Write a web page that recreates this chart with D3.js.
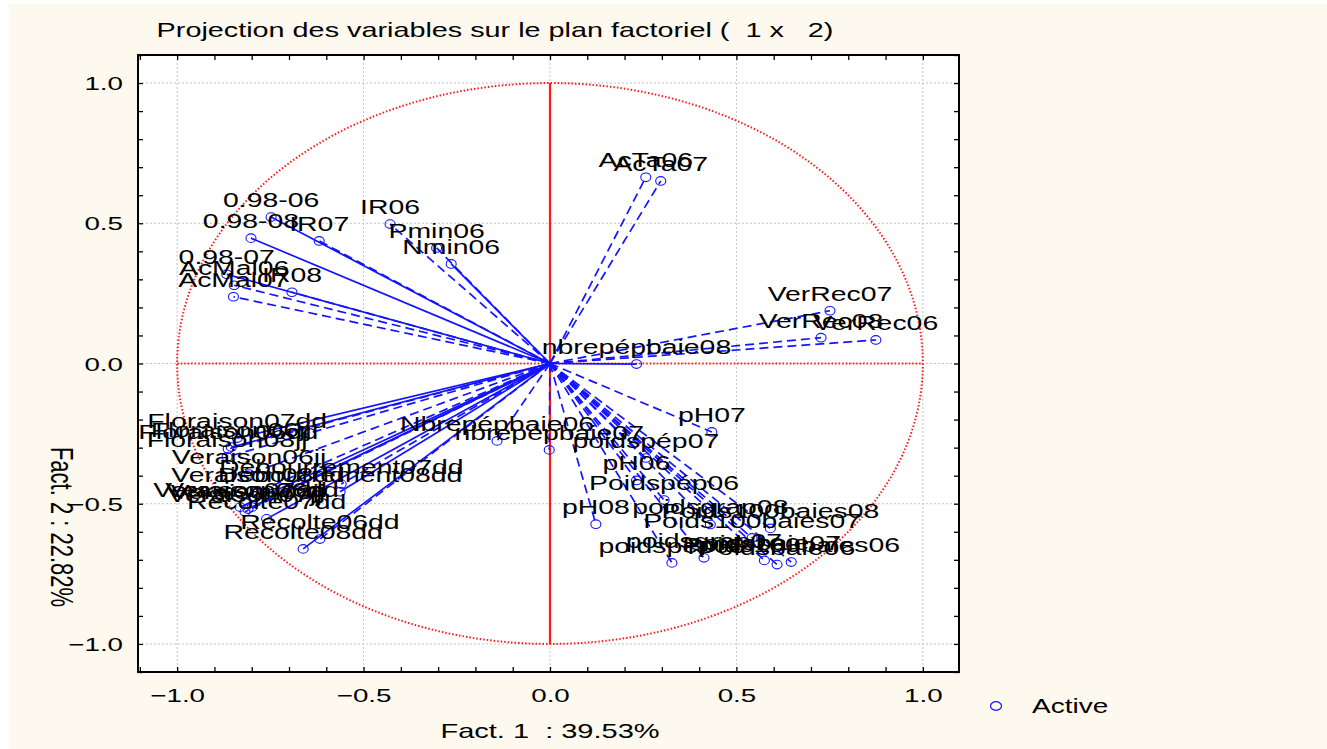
<!DOCTYPE html>
<html><head><meta charset="utf-8">
<script src="https://cdn.jsdelivr.net/npm/d3@7/dist/d3.min.js"></script>
<style>body{margin:0;background:#fff;}svg{display:block;font-family:"Liberation Sans",Arial,sans-serif;}svg text{white-space:pre;}</style>
</head><body>
<script>
// ---- data ----
const names = ["0.98-06","0.98-08","IR07","IR06","Pmin06","Nmin06","0.98-07","AcMal06","IR08","AcMal07",
 "AcTa06","AcTa07","VerRec07","VerRec08","VerRec06","nbrepépbaie08",
 "pH07","poidspép07","pH06","Poidspép06","pH08","poidsgrap08","Poids100baies08","Poids100baies07",
 "poidspép08","poidsgrap07","poidsbaie07","Poidsbaie06","Poids100baies06",
 "Nbrepépbaie06","nbrepépbaie07",
 "Floraison07dd","Floraison06dd","Floraison06jj","Floraison08jj","Veraison06jj","Veraison08dd",
 "Débourrement07dd","Débourrement08dd","Veraison07dd","Veraison07jj","Veraison08jj","Veraison06dd",
 "Recolte07dd","Recolte06dd","Recolte08dd"];
const fact1 = [-0.748,-0.802,-0.619,-0.429,-0.304,-0.265,-0.867,-0.847,-0.692,-0.849,
 0.257,0.297,0.751,0.727,0.874,0.232,
 0.434,0.257,0.232,0.306,0.123,0.430,0.591,0.542,
 0.327,0.413,0.575,0.609,0.647,
 -0.142,-0.002,
 -0.839,-0.863,-0.855,-0.866,-0.807,-0.783,
 -0.560,-0.563,-0.831,-0.818,-0.810,-0.799,
 -0.760,-0.617,-0.662];
const fact2 = [0.522,0.447,0.437,0.497,0.412,0.355,0.318,0.279,0.254,0.238,
 0.664,0.651,0.188,0.092,0.084,-0.002,
 -0.244,-0.337,-0.417,-0.487,-0.573,-0.574,-0.588,-0.622,
 -0.711,-0.693,-0.702,-0.717,-0.708,
 -0.276,-0.308,
 -0.266,-0.305,-0.298,-0.333,-0.394,-0.458,
 -0.430,-0.457,-0.512,-0.529,-0.519,-0.512,
 -0.554,-0.626,-0.661];
const majorTicks = [-1.0,-0.5,0.0,0.5,1.0];
const minorTicks = d3.range(-11,12).map(d=>d/10);
const titleText = "Projection des variables sur le plan factoriel (  1 x   2)";
const xTitle = "Fact. 1  : 39.53%";
const yTitle = "Fact. 2 : 22.82%";
const legendLabel = "Active";

// ---- style ----
const dashedSet = new Set(["IR07","IR06","Pmin06","AcMal06","AcMal07","IR08","AcTa06","AcTa07",
 "VerRec07","VerRec08","VerRec06","pH07","poidspép07","pH06","Poidspép06","pH08","poidsgrap08",
 "Poids100baies08","Poids100baies07","poidspép08","poidsgrap07","poidsbaie07","Poidsbaie06","Poids100baies06",
 "Nbrepépbaie06","nbrepépbaie07","Floraison06dd","Floraison08jj","Veraison06jj","Veraison07jj",
 "Veraison08dd","Recolte06dd","Débourrement07dd"]);
const W=1327,H=749;
const L=138,R=959,T=55,B=672;
const blue="#1414ff", red="#ff1a1a";
const SX=1.42, FS=20;

const svg=d3.select("body").append("svg").attr("width",W).attr("height",H);
svg.append("rect").attr("x",9).attr("y",4).attr("width",W-9).attr("height",H-4).attr("fill","#fef9ee");
svg.append("rect").attr("x",L).attr("y",T).attr("width",R-L).attr("height",B-T).attr("fill","#fff");

const x=d3.scaleLinear().domain([-1.105,1.097]).range([L,R]);
const y=d3.scaleLinear().domain([-1.1,1.1]).range([B,T]);

// grid
const grid=svg.append("g").attr("stroke","#c4c4c4").attr("stroke-width",1).attr("stroke-dasharray","2,2");
majorTicks.forEach(v=>{
  grid.append("line").attr("x1",x(v)).attr("x2",x(v)).attr("y1",T).attr("y2",B);
  grid.append("line").attr("y1",y(v)).attr("y2",y(v)).attr("x1",L).attr("x2",R);
});

// red unit circle and axes
svg.append("ellipse").attr("cx",x(0)).attr("cy",y(0)).attr("rx",x(1)-x(0)).attr("ry",y(0)-y(1))
  .attr("fill","none").attr("stroke",red).attr("stroke-width",2).attr("stroke-dasharray","1.5,2");
svg.append("line").attr("x1",x(-1)).attr("x2",x(1)).attr("y1",y(0)).attr("y2",y(0))
  .attr("stroke",red).attr("stroke-width",2).attr("stroke-dasharray","1.5,2");
svg.append("line").attr("x1",x(0)).attr("x2",x(0)).attr("y1",y(1)).attr("y2",y(-1))
  .attr("stroke",red).attr("stroke-width",2.2);

const pts=names.map((n,i)=>({n,a:fact1[i],b:fact2[i]}));

// vectors
svg.append("g").selectAll("line").data(pts).join("line")
  .attr("x1",x(0)).attr("y1",y(0)).attr("x2",d=>x(d.a)).attr("y2",d=>y(d.b))
  .attr("stroke",blue).attr("stroke-width",1.7)
  .attr("stroke-dasharray",d=>dashedSet.has(d.n)?"9,5":null);

// markers
svg.append("g").selectAll("ellipse").data(pts).join("ellipse")
  .attr("cx",d=>x(d.a)).attr("cy",d=>y(d.b)).attr("rx",5).attr("ry",4.3)
  .attr("fill","none").attr("stroke",blue).attr("stroke-width",1.1);

// labels
svg.append("g").selectAll("text").data(pts).join("text")
  .attr("transform",d=>`translate(${x(d.a)},${y(d.b)-10}) scale(${SX},1)`)
  .attr("text-anchor","middle").attr("font-size",FS).attr("fill","#000").text(d=>d.n);

// axes
const fmt=d3.format(".1f");
const isMajor=v=>majorTicks.some(m=>Math.abs(m-v)<1e-9);
const styleAxis=g=>{g.select(".domain").remove();g.selectAll("line").attr("stroke","#000").attr("stroke-width",1.3);};
const TS=1.5;
const gb=svg.append("g").attr("transform",`translate(0,${B})`)
  .call(d3.axisBottom(x).tickValues(minorTicks.filter(v=>x(v)>=L&&x(v)<=R)).tickSize(-5).tickFormat(v=>isMajor(v)?fmt(v):""));
styleAxis(gb);
gb.selectAll("text").attr("font-size",18.5).attr("fill","#000").attr("font-family","Liberation Sans, Arial, sans-serif")
  .attr("y",30).attr("dy",0).attr("transform",`scale(${TS},1)`);
const gt=svg.append("g").attr("transform",`translate(0,${T})`)
  .call(d3.axisTop(x).tickValues(minorTicks.filter(v=>x(v)>=L&&x(v)<=R)).tickSize(-5).tickFormat(""));
styleAxis(gt);
const gl=svg.append("g").attr("transform",`translate(${L},0)`)
  .call(d3.axisLeft(y).tickValues(minorTicks.filter(v=>y(v)>=T&&y(v)<=B)).tickSize(-5).tickFormat(v=>isMajor(v)?fmt(v):""));
styleAxis(gl);
gl.selectAll("text").attr("font-size",18.5).attr("fill","#000").attr("font-family","Liberation Sans, Arial, sans-serif")
  .attr("x",-15/TS).attr("dy","0.36em").attr("transform",`scale(${TS},1)`);
const gr=svg.append("g").attr("transform",`translate(${R},0)`)
  .call(d3.axisRight(y).tickValues(minorTicks.filter(v=>y(v)>=T&&y(v)<=B)).tickSize(-5).tickFormat(""));
styleAxis(gr);

// frame
svg.append("rect").attr("x",L).attr("y",T).attr("width",R-L).attr("height",B-T)
  .attr("fill","none").attr("stroke","#000").attr("stroke-width",2);

// titles
svg.append("text").attr("transform",`translate(495,37) scale(1.44,1)`).attr("text-anchor","middle")
  .attr("font-size",FS).text(titleText);
svg.append("text").attr("transform",`translate(550,738) scale(1.45,1)`).attr("text-anchor","middle")
  .attr("font-size",FS).text(xTitle);
svg.append("text").attr("transform",`translate(51,527) rotate(90) scale(1,1.45)`).attr("text-anchor","middle")
  .attr("font-size",22).text(yTitle);

// legend
svg.append("ellipse").attr("cx",996).attr("cy",706).attr("rx",5.5).attr("ry",4.3)
  .attr("fill","none").attr("stroke",blue).attr("stroke-width",1.2);
svg.append("text").attr("transform",`translate(1032,713) scale(1.4,1)`).attr("font-size",FS).text(legendLabel);
</script>
</body></html>
